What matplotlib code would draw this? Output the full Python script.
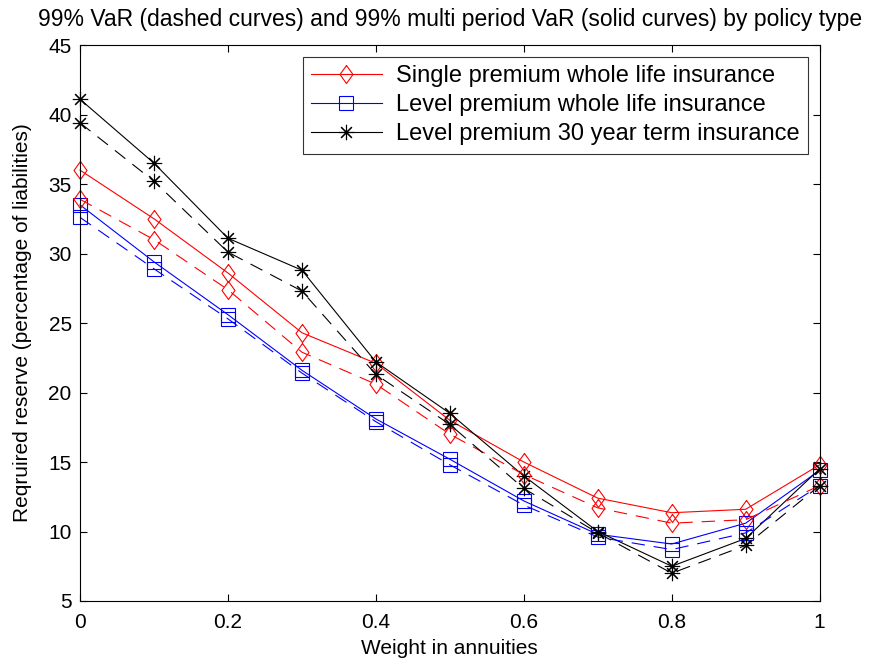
import matplotlib
matplotlib.use('Agg')
import matplotlib.pyplot as plt
import numpy as np

plt.rcParams['font.family'] = ['Liberation Sans', 'DejaVu Sans']

# weight in annuities
weights = [0.0, 0.1, 0.2, 0.3, 0.4, 0.5, 0.6, 0.7, 0.8, 0.9, 1.0]

# single premium whole life
spwl_multi = [36.0, 32.5, 28.6, 24.3, 22.1, 18.0, 15.0, 12.4, 11.35, 11.6, 14.8]
spwl_var = [33.9, 31.0, 27.4, 22.9, 20.6, 17.0, 14.1, 11.7, 10.6, 10.85, 13.3]

# level premium whole life
lpwl_multi = [33.5, 29.4, 25.6, 21.6, 18.1, 15.2, 12.2, 9.8, 9.1, 10.6, 14.4]
lpwl_var = [32.6, 28.9, 25.3, 21.4, 17.9, 14.8, 11.9, 9.6, 8.7, 9.9, 13.3]

# level premium 30 year term
term_multi = [41.1, 36.5, 31.1, 28.8, 22.2, 18.5, 14.0, 10.0, 7.5, 9.5, 14.5]
term_var = [39.4, 35.2, 30.1, 27.3, 21.3, 17.7, 13.1, 9.9, 7.0, 9.0, 13.3]

labels = ['Single premium whole life insurance',
          'Level premium whole life insurance',
          'Level premium 30 year term insurance']

diamond = [(0, 1), (0.72, 0), (0, -1), (-0.72, 0), (0, 1)]
dash = (0, (12, 8))

fig = plt.figure(figsize=(8.89, 6.66), dpi=100)
ax = fig.add_axes([0.09, 0.0976, 0.832, 0.8348])

ax.plot(weights, spwl_multi, color='red', lw=0.8, marker=diamond, ms=13,
        mfc='none', mew=0.8, label=labels[0], clip_on=False)
ax.plot(weights, lpwl_multi, color='blue', lw=0.8, marker='s', ms=9.5,
        mfc='none', mew=0.8, label=labels[1], clip_on=False)
ax.plot(weights, term_multi, color='black', lw=0.8, marker=(8, 2, 0), ms=11,
        mew=0.8, label=labels[2], clip_on=False)

ax.plot(weights, spwl_var, color='red', lw=0.8, ls=dash, marker=diamond, ms=13,
        mfc='none', mew=0.8, clip_on=False)
ax.plot(weights, lpwl_var, color='blue', lw=0.8, ls=dash, marker='s', ms=9.5,
        mfc='none', mew=0.8, clip_on=False)
ax.plot(weights, term_var, color='black', lw=0.8, ls=dash, marker=(8, 2, 0), ms=11,
        mew=0.8, clip_on=False)

ax.set_xlim(0, 1)
ax.set_ylim(5, 45)
ax.set_xticks([0, 0.2, 0.4, 0.6, 0.8, 1])
ax.set_xticklabels(['0', '0.2', '0.4', '0.6', '0.8', '1'])
ax.set_yticks(np.arange(5, 46, 5))
ax.tick_params(direction='in', top=True, right=True, labelsize=15, length=5,
               width=0.8, pad=6)
ax.tick_params(axis='x', pad=9)
for s in ax.spines.values():
    s.set_linewidth(0.8)

ax.set_xlabel('Weight in annuities', fontsize=15, labelpad=5)
ax.set_ylabel('Reqruired reserve (percentage of liabilities)', fontsize=15, labelpad=12)
ax.set_title('99% VaR (dashed curves) and 99% multi period VaR (solid curves) by policy type',
             fontsize=16.5, pad=14)

leg = ax.legend(loc='upper right', fontsize=17, handlelength=3.0, handletextpad=0.6,
                frameon=True, fancybox=False, edgecolor='black', borderaxespad=0.5,
                labelspacing=0.3, borderpad=0.35)
leg.get_frame().set_linewidth(0.8)

fig.savefig('out.png', dpi=100)
